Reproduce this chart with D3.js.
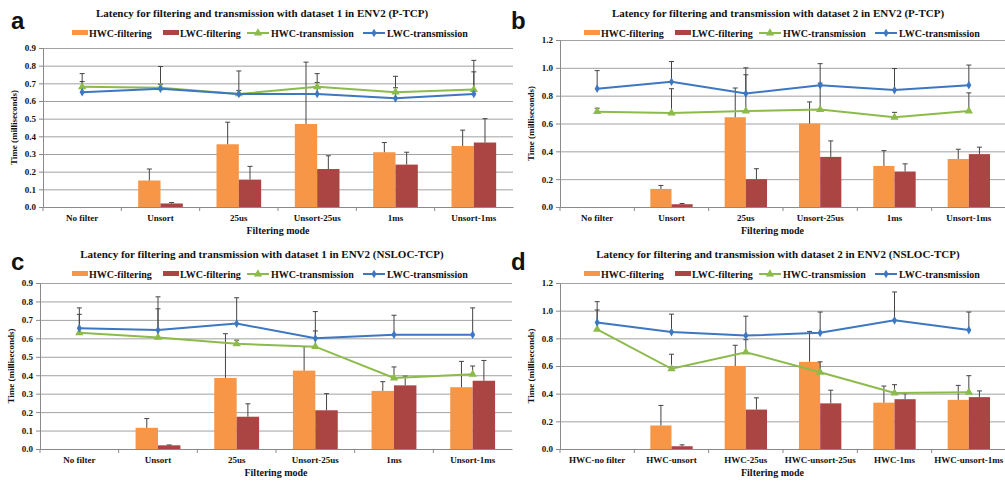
<!DOCTYPE html>
<html>
<head>
<meta charset="utf-8">
<script src="https://cdn.jsdelivr.net/npm/d3@7"></script>
<style>
  body { margin: 0; background: #ffffff; }
  text { font-family: "Liberation Serif", "Times New Roman", serif; font-weight: bold; fill: #111; }
  .letter { font-family: "Liberation Sans", Arial, sans-serif; font-size: 24px; }
  .grid line { stroke: #a2a2a2; }
  .grid .domain { display: none; }
</style>
</head>
<body>
<div id="chart"></div>
<script>
// categories
var catsP1 = ["No filter", "Unsort", "25us", "Unsort-25us", "1ms", "Unsort-1ms"];
var catsP4 = ["HWC-no filter", "HWC-unsort", "HWC-25us", "HWC-unsort-25us", "HWC-1ms", "HWC-unsort-1ms"];
var seriesNames = ["HWC-filtering", "LWC-filtering", "HWC-transmission", "LWC-transmission"];
var ticks09 = [0.0, 0.1, 0.2, 0.3, 0.4, 0.5, 0.6, 0.7, 0.8, 0.9];
var ticks12 = [0.0, 0.2, 0.4, 0.6, 0.8, 1.0, 1.2];

// panel a: dataset 1, P-TCP  (value, top of error bar)
var aHwcFilt = [null, 0.15, 0.355, 0.47, 0.31, 0.345];
var aHwcFiltHi = [null, 0.215, 0.48, 0.82, 0.365, 0.435];
var aLwcFilt = [null, 0.02, 0.155, 0.215, 0.24, 0.365];
var aLwcFiltHi = [null, 0.025, 0.23, 0.29, 0.31, 0.50];
var aHwcTrans = [0.68, 0.675, 0.64, 0.68, 0.65, 0.665];
var aHwcTransHi = [0.71, 0.695, 0.66, 0.705, 0.675, 0.765];
var aLwcTrans = [0.65, 0.67, 0.64, 0.64, 0.615, 0.64];
var aLwcTransHi = [0.755, 0.795, 0.77, 0.755, 0.74, 0.83];

// panel b: dataset 2, P-TCP
var bHwcFilt = [null, 0.13, 0.645, 0.60, 0.295, 0.345];
var bHwcFiltHi = [null, 0.155, 0.855, 0.755, 0.405, 0.415];
var bLwcFilt = [null, 0.02, 0.20, 0.36, 0.255, 0.38];
var bLwcFiltHi = [null, 0.025, 0.275, 0.475, 0.31, 0.43];
var bHwcTrans = [0.685, 0.675, 0.69, 0.70, 0.645, 0.69];
var bHwcTransHi = [0.71, 0.85, 0.95, 0.89, 0.68, 0.82];
var bLwcTrans = [0.85, 0.90, 0.815, 0.875, 0.84, 0.875];
var bLwcTransHi = [0.98, 1.045, 1.0, 1.03, 0.995, 1.02];

// panel c: dataset 1, NSLOC-TCP
var cHwcFilt = [null, 0.115, 0.385, 0.425, 0.315, 0.335];
var cHwcFiltHi = [null, 0.165, 0.625, 0.555, 0.365, 0.475];
var cLwcFilt = [null, 0.02, 0.175, 0.21, 0.345, 0.37];
var cLwcFiltHi = [null, 0.022, 0.245, 0.30, 0.395, 0.48];
var cHwcTrans = [0.63, 0.605, 0.57, 0.555, 0.385, 0.405];
var cHwcTransHi = [0.73, 0.76, 0.59, 0.64, 0.445, 0.45];
var cLwcTrans = [0.655, 0.645, 0.68, 0.60, 0.62, 0.62];
var cLwcTransHi = [0.765, 0.825, 0.82, 0.745, 0.725, 0.765];

// panel d: dataset 2, NSLOC-TCP
var dHwcFilt = [null, 0.17, 0.60, 0.63, 0.335, 0.355];
var dHwcFiltHi = [null, 0.315, 0.75, 0.85, 0.455, 0.46];
var dLwcFilt = [null, 0.02, 0.285, 0.33, 0.36, 0.375];
var dLwcFiltHi = [null, 0.03, 0.37, 0.425, 0.40, 0.42];
var dHwcTrans = [0.865, 0.58, 0.70, 0.555, 0.405, 0.41];
var dHwcTransHi = [1.005, 0.685, 0.79, 0.63, 0.465, 0.53];
var dLwcTrans = [0.915, 0.845, 0.82, 0.84, 0.93, 0.86];
var dLwcTransHi = [1.065, 0.975, 0.96, 0.99, 1.135, 0.99];

var colors = ["#f79646", "#aa4543", "#8cbb4b", "#3d77c1"];

var svg = d3.select("#chart").append("svg")
    .attr("width", 1005)
    .attr("height", 482);

var panels = [
  { letter: "a", title: "Latency for filtering and transmission with dataset 1 in ENV2 (P-TCP)",
    cats: catsP1, ticks: ticks09, max: 0.9, left: 43, right: 513, top: 48, bottom: 207, oy: 0, ox: 0, lx: 72,
    bars: [[aHwcFilt, aHwcFiltHi], [aLwcFilt, aLwcFiltHi]], lines: [[aHwcTrans, aHwcTransHi], [aLwcTrans, aLwcTransHi]] },
  { letter: "b", title: "Latency for filtering and transmission with dataset 2 in ENV2 (P-TCP)",
    cats: catsP1, ticks: ticks12, max: 1.2, left: 560, right: 1006, top: 40, bottom: 207, oy: 0, ox: 500, lx: 584,
    bars: [[bHwcFilt, bHwcFiltHi], [bLwcFilt, bLwcFiltHi]], lines: [[bHwcTrans, bHwcTransHi], [bLwcTrans, bLwcTransHi]] },
  { letter: "c", title: "Latency for filtering and transmission with dataset 1 in ENV2 (NSLOC-TCP)",
    cats: catsP1, ticks: ticks09, max: 0.9, left: 40, right: 512, top: 283, bottom: 449, oy: 241, ox: 0, lx: 72,
    bars: [[cHwcFilt, cHwcFiltHi], [cLwcFilt, cLwcFiltHi]], lines: [[cHwcTrans, cHwcTransHi], [cLwcTrans, cLwcTransHi]] },
  { letter: "d", title: "Latency for filtering and transmission with dataset 2 in ENV2 (NSLOC-TCP)",
    cats: catsP4, ticks: ticks12, max: 1.2, left: 560, right: 1006, top: 283, bottom: 449, oy: 241, ox: 500, lx: 584,
    bars: [[dHwcFilt, dHwcFiltHi], [dLwcFilt, dLwcFiltHi]], lines: [[dHwcTrans, dHwcTransHi], [dLwcTrans, dLwcTransHi]] }
];

panels.forEach(function(p) {
    var g = svg.append("g");

    var x = d3.scaleBand()
        .domain(p.cats)
        .range([p.left, p.right])
        .paddingInner(0.43)
        .paddingOuter(0.215);
    var xs = d3.scaleBand()
        .domain([0, 1])
        .range([0, x.bandwidth()]);
    var y = d3.scaleLinear()
        .domain([0, p.max])
        .range([p.bottom, p.top]);
    var half = x.step() * 0.43 / 2;
    function cx(c) { return x(c) + x.bandwidth() / 2; }

    // panel letter + title
    g.append("text")
        .attr("class", "letter")
        .attr("x", p.ox + 11)
        .attr("y", p.oy + 29)
        .text(p.letter);
    g.append("text")
        .attr("x", p.ox + (p.ox ? 278 : 262))
        .attr("y", p.oy + 17)
        .attr("text-anchor", "middle")
        .style("font-size", "11px")
        .text(p.title);

    // gridlines
    g.append("g")
        .attr("class", "grid")
        .attr("transform", "translate(" + p.left + ",0)")
        .call(d3.axisLeft(y).tickValues(p.ticks).tickSize(-(p.right - p.left)).tickFormat(""));

    // y axis
    var ya = g.append("g")
        .attr("transform", "translate(" + p.left + ",0)")
        .call(d3.axisLeft(y).tickValues(p.ticks).tickSize(4).tickFormat(d3.format(".1f")));
    ya.selectAll("line, path").attr("stroke", "#8a8a8a");
    ya.selectAll("text").style("font-size", "9px").style("font-family", "Liberation Serif").attr("fill", "#222");

    // x axis
    var xa = g.append("g")
        .attr("transform", "translate(0," + p.bottom + ")")
        .call(d3.axisBottom(x).tickSize(0).tickPadding(8).tickSizeOuter(0));
    xa.select(".domain").attr("stroke", "#8a8a8a");
    xa.selectAll("text").style("font-size", "9px").style("font-family", "Liberation Serif").attr("fill", "#222");
    xa.selectAll(".bound").data(p.cats)
        .enter().append("line")
        .attr("x1", function(c) { return x(c) - half; })
        .attr("x2", function(c) { return x(c) - half; })
        .attr("y1", 0).attr("y2", 4)
        .attr("stroke", "#8a8a8a");

    // axis titles
    g.append("text")
        .attr("x", (p.left + Math.min(p.right, 1005)) / 2 + (p.ox ? -10 : 0))
        .attr("y", p.bottom + 27)
        .attr("text-anchor", "middle")
        .style("font-size", "10px")
        .text("Filtering mode");
    g.append("text")
        .attr("transform", "translate(" + (p.left - 26) + "," + ((p.top + p.bottom) / 2) + ") rotate(-90)")
        .attr("text-anchor", "middle")
        .style("font-size", "9px")
        .text("Time (milliseconds)");

    // bars with error bars
    p.bars.forEach(function(s, si) {
        var rows = p.cats.map(function(c, i) { return { c: c, v: s[0][i], hi: s[1][i] }; })
            .filter(function(d) { return d.v !== null; });
        g.selectAll(".bar" + si).data(rows)
            .enter().append("rect")
            .attr("x", function(d) { return x(d.c) + xs(si); })
            .attr("y", function(d) { return y(d.v); })
            .attr("width", xs.bandwidth())
            .attr("height", function(d) { return p.bottom - y(d.v); })
            .attr("fill", colors[si]);
        var eb = g.selectAll(".err" + si).data(rows).enter().append("g");
        eb.append("line")
            .attr("x1", function(d) { return x(d.c) + xs(si) + xs.bandwidth() / 2; })
            .attr("x2", function(d) { return x(d.c) + xs(si) + xs.bandwidth() / 2; })
            .attr("y1", function(d) { return y(d.v); })
            .attr("y2", function(d) { return y(d.hi); })
            .attr("stroke", "#444");
        eb.append("line")
            .attr("x1", function(d) { return x(d.c) + xs(si) + xs.bandwidth() / 2 - 2.5; })
            .attr("x2", function(d) { return x(d.c) + xs(si) + xs.bandwidth() / 2 + 2.5; })
            .attr("y1", function(d) { return y(d.hi); })
            .attr("y2", function(d) { return y(d.hi); })
            .attr("stroke", "#444");
    });

    // error bars of the lines
    p.lines.forEach(function(s) {
        var eb = g.selectAll(null).data(p.cats).enter().append("g");
        eb.append("line")
            .attr("x1", function(c) { return cx(c); })
            .attr("x2", function(c) { return cx(c); })
            .attr("y1", function(c, i) { return y(s[0][i]); })
            .attr("y2", function(c, i) { return y(s[1][i]); })
            .attr("stroke", "#444");
        eb.append("line")
            .attr("x1", function(c) { return cx(c) - 2.5; })
            .attr("x2", function(c) { return cx(c) + 2.5; })
            .attr("y1", function(c, i) { return y(s[1][i]); })
            .attr("y2", function(c, i) { return y(s[1][i]); })
            .attr("stroke", "#444");
    });

    // lines with markers
    var symbols = [d3.symbol().type(d3.symbolTriangle).size(30), d3.symbol().type(d3.symbolDiamond).size(22)];
    p.lines.forEach(function(s, li) {
        var line = d3.line()
            .x(function(c) { return cx(c); })
            .y(function(c, i) { return y(s[0][i]); });
        g.append("path")
            .datum(p.cats)
            .attr("d", line)
            .attr("fill", "none")
            .attr("stroke", colors[li + 2])
            .attr("stroke-width", 2);
        g.selectAll(null).data(p.cats)
            .enter().append("path")
            .attr("d", symbols[li])
            .attr("transform", function(c, i) { return "translate(" + cx(c) + "," + y(s[0][i]) + ")"; })
            .attr("fill", colors[li + 2]);
    });

    // legend
    var ly = p.oy + 33;
    var offs = [0, 91, 175, 291];
    seriesNames.forEach(function(name, i) {
        var lx = p.lx + offs[i];
        if (i < 2) {
            g.append("rect")
                .attr("x", lx).attr("y", ly - 3)
                .attr("width", 16).attr("height", 5)
                .attr("fill", colors[i]);
            g.append("text").attr("x", lx + 17).attr("y", ly + 3.5)
                .style("font-size", "10px").text(name);
        } else {
            g.append("line")
                .attr("x1", lx).attr("x2", lx + 22)
                .attr("y1", ly).attr("y2", ly)
                .attr("stroke", colors[i]).attr("stroke-width", 2);
            g.append("path")
                .attr("d", symbols[i - 2])
                .attr("transform", "translate(" + (lx + 11) + "," + ly + ")")
                .attr("fill", colors[i]);
            g.append("text").attr("x", lx + 24).attr("y", ly + 3.5)
                .style("font-size", "10px").text(name);
        }
    });
});
</script>
</body>
</html>
